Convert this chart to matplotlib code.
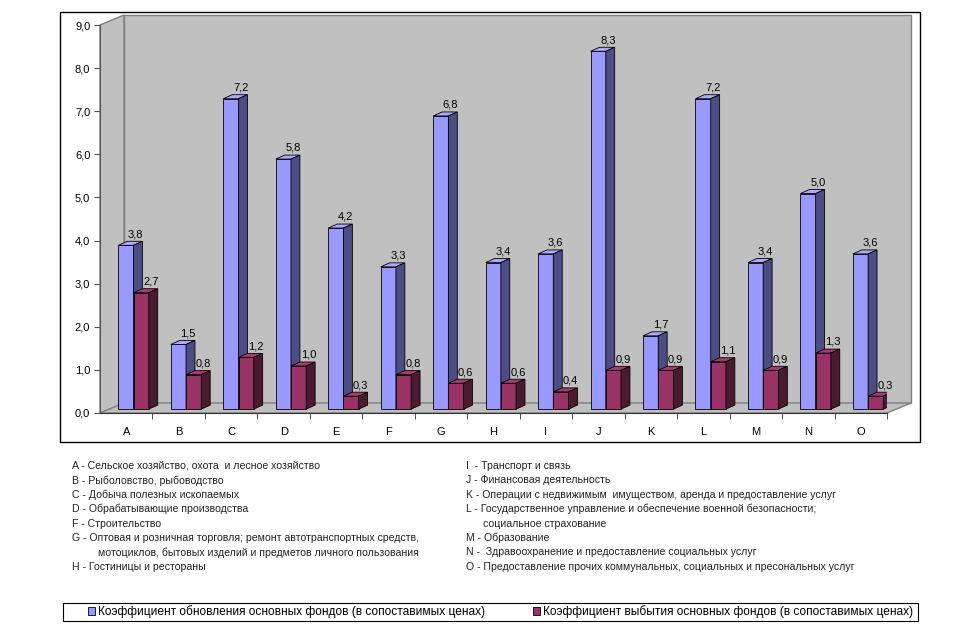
import numpy as np
import matplotlib
matplotlib.use("Agg")
import matplotlib.pyplot as plt
from matplotlib.patches import Polygon, Rectangle

plt.rcParams['font.family'] = ['Liberation Sans', 'DejaVu Sans']

# data
categories = ["A", "B", "C", "D", "E", "F", "G", "H", "I", "J", "K", "L", "M", "N", "O"]
renewal = [3.8, 1.5, 7.2, 5.8, 4.2, 3.3, 6.8, 3.4, 3.6, 8.3, 1.7, 7.2, 3.4, 5.0, 3.6]
retirement = [2.7, 0.8, 1.2, 1.0, 0.3, 0.8, 0.6, 0.6, 0.4, 0.9, 0.9, 1.1, 0.9, 1.3, 0.3]
yticks = [0, 1, 2, 3, 4, 5, 6, 7, 8, 9]
series_names = ["Коэффициент обновления основных фондов (в сопоставимых ценах)",
                "Коэффициент выбытия основных фондов (в сопоставимых ценах)"]

notes_left = [
    "A - Сельское хозяйство, охота  и лесное хозяйство",
    "B - Рыболовство, рыбоводство",
    "C - Добыча полезных ископаемых",
    "D - Обрабатывающие производства",
    "F - Строительство",
    "G - Оптовая и розничная торговля; ремонт автотранспортных средств,",
    "    мотоциклов, бытовых изделий и предметов личного пользования",
    "H - Гостиницы и рестораны",
]
notes_right = [
    "I  - Транспорт и связь",
    "J - Финансовая деятельность",
    "K - Операции с недвижимым  имуществом, аренда и предоставление услуг",
    "L - Государственное управление и обеспечение военной безопасности;",
    "    социальное страхование",
    "M - Образование",
    "N -  Здравоохранение и предоставление социальных услуг",
    "O - Предоставление прочих коммунальных, социальных и пресональных услуг",
]

W, H = 969, 625


def fx(px):
    return px / W


def fy(py):
    return 1 - py / H


fig = plt.figure(figsize=(W / 100, H / 100), dpi=100)

# outer chart frame
fig.add_artist(Rectangle((fx(60), fy(442)), fx(920) - fx(60), fy(12) - fy(442),
                         transform=fig.transFigure, fill=False,
                         edgecolor="black", linewidth=1.0))

ax = fig.add_axes([fx(100), fy(413), fx(887) - fx(100), fy(25) - fy(413)])
ax.set_xlim(0, len(categories))
ax.set_ylim(0, 9)
ax.patch.set_visible(False)

# 3d walls
n = len(categories)
wdx, wdy = 0.457, 0.232
wall = "#C0C0C0"
edge = "#808080"
ax.add_patch(Polygon([(wdx, wdy), (n + wdx, wdy), (n + wdx, 9 + wdy), (wdx, 9 + wdy)],
                     closed=True, facecolor=wall, edgecolor=edge, lw=1,
                     clip_on=False, zorder=0))
ax.add_patch(Polygon([(0, 0), (wdx, wdy), (wdx, 9 + wdy), (0, 9)],
                     closed=True, facecolor=wall, edgecolor=edge, lw=1,
                     clip_on=False, zorder=0))
ax.add_patch(Polygon([(0, 0), (n, 0), (n + wdx, wdy), (wdx, wdy)],
                     closed=True, facecolor=wall, edgecolor=edge, lw=1,
                     clip_on=False, zorder=0))

# bars
bw = 0.29
base = 0.09
ddx, ddy = 0.17, 0.093
styles = [("#9999FF", "#AAAAFF", "#4D4D85"), ("#993366", "#A83C70", "#4A1A30")]
x = np.arange(n)
handles = []
for s, vals in enumerate([renewal, retirement]):
    front, top, side = styles[s]
    x0 = x + 0.35 + s * bw
    bars = ax.bar(x0, vals, width=bw, bottom=base, align="edge",
                  color=front, edgecolor="black", linewidth=0.6, zorder=2 + s)
    handles.append(bars)
    for xi, v in zip(x0, vals):
        t = base + v
        ax.add_patch(Polygon([(xi, t), (xi + bw, t), (xi + bw + ddx, t + ddy),
                              (xi + ddx, t + ddy)], closed=True, facecolor=top,
                             edgecolor="black", lw=0.6, zorder=2 + s))
        ax.add_patch(Polygon([(xi + bw, base), (xi + bw + ddx, base + ddy),
                              (xi + bw + ddx, t + ddy), (xi + bw, t)], closed=True,
                             facecolor=side, edgecolor="black", lw=0.6, zorder=2 + s))
        ax.text(xi + bw + 0.04, t + ddy + 0.05, f"{v:.1f}".replace(".", ","),
                ha="center", va="bottom", fontsize=8, zorder=5)

# axes
for sp in ["top", "right"]:
    ax.spines[sp].set_visible(False)
ax.spines["left"].set_color("#555555")
ax.spines["bottom"].set_color("#333333")
ax.set_yticks(yticks)
ax.set_yticklabels([f"{v:.1f}".replace(".", ",") for v in yticks], fontsize=8)
ax.tick_params(axis="y", direction="out", length=4, color="#555555", pad=3)
ax.set_xticks(x + 0.5)
ax.set_xticklabels(categories, fontsize=8)
ax.set_xticks(np.arange(1, n + 1), minor=True)
ax.tick_params(axis="x", which="major", length=0, pad=10)
ax.tick_params(axis="x", which="minor", direction="out", length=4, color="#333333")

# category notes
for k, line in enumerate(notes_left):
    px = 98 if line.startswith(" ") else 72
    fig.text(fx(px), fy(466 + k * 14.4), line.strip(), fontsize=7.6, va="center",
             color="#222222")
for k, line in enumerate(notes_right):
    px = 483 if line.startswith(" ") else 466
    fig.text(fx(px), fy(466 + k * 14.4), line.strip(), fontsize=7.6, va="center",
             color="#222222")

# legend box and entries
fig.add_artist(Rectangle((fx(63), fy(621)), fx(918) - fx(63), fy(603) - fy(621),
                         transform=fig.transFigure, fill=False,
                         edgecolor="black", linewidth=0.8))
leg = fig.legend(handles, series_names, loc="center left", ncol=2,
                 bbox_to_anchor=(fx(88), fy(612)),
                 fontsize=8.6, frameon=False,
                 handlelength=0.6, handleheight=0.6, handletextpad=0.25,
                 columnspacing=4.0, borderpad=0, borderaxespad=0)

fig.savefig("out.png", dpi=100)
